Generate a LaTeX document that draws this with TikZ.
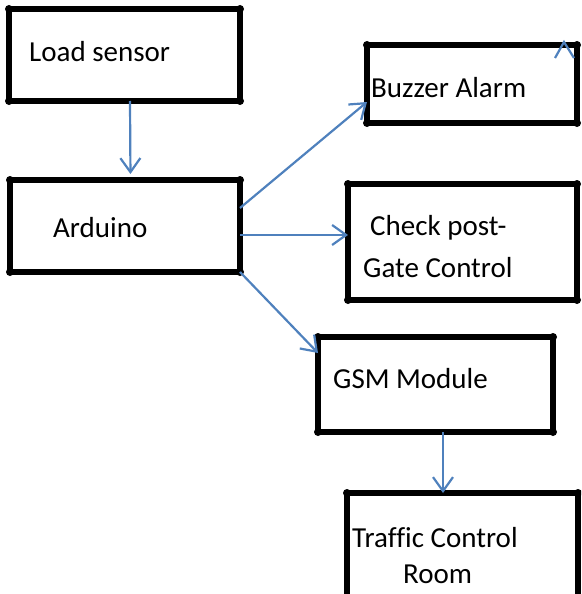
\documentclass[tikz,border=0pt]{standalone}
\usepackage{fontspec}
\setmainfont{Carlito}[Ligatures=CommonOff]
\usetikzlibrary{arrows.meta}
\definecolor{arrblue}{RGB}{79,129,189}
\begin{document}
\begin{tikzpicture}[x=1pt,y=-1pt,
  box/.style={draw=black, line width=5.5pt, rectangle, outer sep=0pt, inner sep=0pt},
  lbl/.style={anchor=base west, inner sep=0pt, font=\fontsize{29}{34}\selectfont},
  conn/.style={draw=arrblue, line width=2.2pt, -{Straight Barb[length=14pt,width=20pt]}},
]
\useasboundingbox (0,0) rectangle (581,594);
\clip (0,0) rectangle (581,594);
% boxes
\node[box, minimum width=231pt, minimum height=92pt] (load) at (124.5,55) {};
\node[box, minimum width=230pt, minimum height=92pt] (ard) at (125,226) {};
\node[box, minimum width=210pt, minimum height=78pt] (buz) at (472,84) {};
\node[box, minimum width=229pt, minimum height=116pt] (chk) at (462.5,242) {};
\node[box, minimum width=235pt, minimum height=95pt] (gsm) at (435.5,384.5) {};
\node[box, minimum width=231pt, minimum height=117pt] (trf) at (462.5,551.5) {};
\foreach \n in {load,ard,buz,chk,gsm,trf}
  \foreach \a in {north west,north east,south west,south east}
    \fill (\n.\a) circle (4pt);
% texts
\node[lbl] (tload) at (29,62) {Load sensor};
\node[lbl] (tard) at (53,237) {Arduino};
\node[lbl] (tbuz) at (371,97) {Buzzer Alarm};
\node[lbl] (tchk1) at (370,235) {Check post-};
\node[lbl] (tchk2) at (363,277) {Gate Control};
\node[lbl] (tgsm) at (333,388) {GSM Module};
\node[lbl] (ttrf1) at (352,547) {Traffic Control};
\node[lbl] (ttrf2) at (403,583) {Room};
% connectors
\draw[conn, shorten >=6pt] ([xshift=5.5pt]load.south) -- ([xshift=5.5pt]ard.north);
\draw[conn] ([yshift=18pt]ard.east) -- ([yshift=-18pt]buz.west);
\draw[conn] ([yshift=-9pt]ard.east) -- ([yshift=-9pt]ard.east -| chk.west);
\draw[conn] (ard.south east) -- ([yshift=-16pt]gsm.north west);
\draw[conn] ([xshift=7.5pt]gsm.south) -- ([xshift=7.5pt]gsm.south |- trf.north);
% stray chevron at top right of Buzzer Alarm
\draw[arrblue, line width=2.2pt] (555,58) -- (564,42) -- (574,58);
\end{tikzpicture}
\end{document}
